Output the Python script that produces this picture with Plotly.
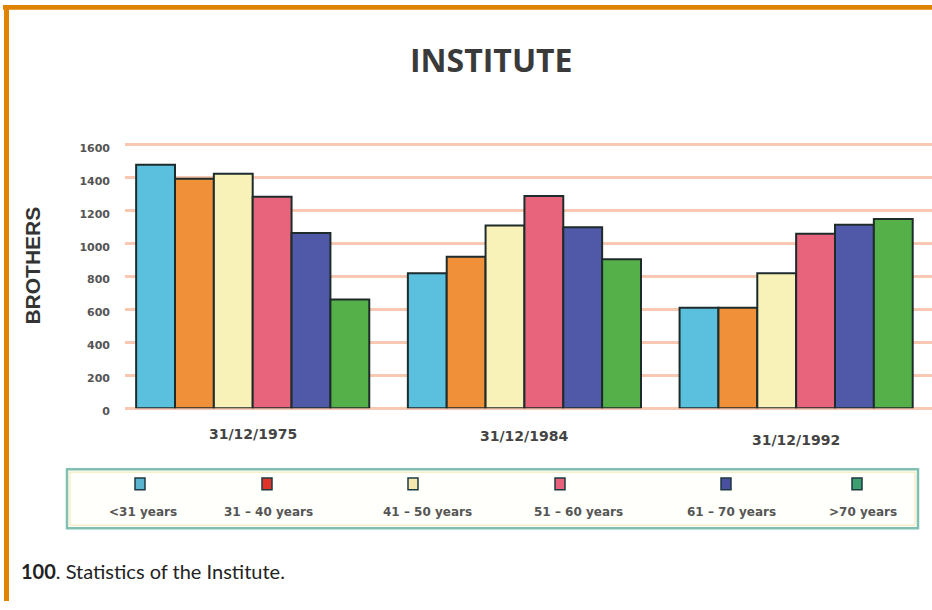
import plotly.graph_objects as go

# ---- data ----
dates = ["31/12/1975", "31/12/1984", "31/12/1992"]
age_groups = ["<31 years", "31 – 40 years", "41 – 50 years", "51 – 60 years", "61 – 70 years", ">70 years"]
under_31 = [1480, 820, 610]
age_31_40 = [1395, 920, 610]
age_41_50 = [1425, 1110, 820]
age_51_60 = [1285, 1290, 1060]
age_61_70 = [1065, 1100, 1115]
over_70 = [660, 905, 1150]
y_ticks = [0, 200, 400, 600, 800, 1000, 1200, 1400, 1600]

series = [under_31, age_31_40, age_41_50, age_51_60, age_61_70, over_70]

# ---- styles ----
bar_colors = ["#5BC0DE", "#F0913A", "#F8F2B8", "#E8637C", "#5058A8", "#55B04A"]
legend_colors = ["#5AB4D0", "#E0342A", "#F5E9B0", "#E8607A", "#4A4FA0", "#3E9E70"]
legend_marker_x = [140, 267, 413, 560, 726, 857]
legend_text_x = [143, 268, 427, 578, 731, 863]
date_label_y = [441, 443, 447]

W, H = 932, 610
def px(x):
    return x / W
def py(y):
    return 1 - y / H

fig = go.Figure()
for name, vals, col in zip(age_groups, series, bar_colors):
    fig.add_trace(go.Bar(
        x=dates, y=vals, name=name,
        marker=dict(color=col, line=dict(color="#1E2B2B", width=2)),
        showlegend=False,
    ))

shapes = []
# orange frame
shapes.append(dict(type="rect", xref="paper", yref="paper", x0=px(3), x1=px(933), y0=py(10), y1=py(5),
                   fillcolor="#E08300", line=dict(width=0), layer="above"))
shapes.append(dict(type="rect", xref="paper", yref="paper", x0=px(4), x1=px(9), y0=py(611), y1=py(5),
                   fillcolor="#E08300", line=dict(width=0), layer="above"))
# legend box
shapes.append(dict(type="rect", xref="paper", yref="paper", x0=px(67), x1=px(918), y0=py(537), y1=py(477),
                   fillcolor="#FFFFFB", line=dict(color="#7FC0B0", width=2.5), layer="below"))
shapes.append(dict(type="rect", xref="paper", yref="paper", x0=px(70), x1=px(915), y0=py(534), y1=py(480),
                   fillcolor="rgba(0,0,0,0)", line=dict(color="#F3E6B0", width=1), layer="below"))
for cx, col in zip(legend_marker_x, legend_colors):
    shapes.append(dict(type="rect", xref="paper", yref="paper", x0=px(cx - 5), x1=px(cx + 5),
                       y0=py(498), y1=py(486), fillcolor=col,
                       line=dict(color="#1E3A40", width=1.5), layer="above"))

annotations = []
annotations.append(dict(text="<b>INSTITUTE</b>", x=px(491), y=py(60), xref="paper", yref="paper",
                        showarrow=False, xanchor="center", yanchor="middle",
                        font=dict(family="Open Sans", size=32, color="#3A3A3A")))
annotations.append(dict(text="<b>BROTHERS</b>", x=px(33), y=py(270), xref="paper", yref="paper",
                        showarrow=False, xanchor="center", yanchor="middle", textangle=-90,
                        font=dict(family="Liberation Sans", size=21, color="#333333")))
for d, yy in zip(dates, date_label_y):
    annotations.append(dict(text="<b>" + d + "</b>", x=d, y=py(yy), xref="x", yref="paper",
                            showarrow=False, xanchor="center", yanchor="middle",
                            font=dict(family="DejaVu Sans", size=14, color="#444444")))
for tx, name in zip(legend_text_x, age_groups):
    annotations.append(dict(text="<b>" + name + "</b>", x=px(tx), y=py(521), xref="paper", yref="paper",
                            showarrow=False, xanchor="center", yanchor="middle",
                            font=dict(family="DejaVu Sans", size=12, color="#555555")))
annotations.append(dict(text="<b>100</b>. Statistics of the Institute.", x=px(19), y=py(581),
                        xref="paper", yref="paper", showarrow=False, xanchor="left", yanchor="middle",
                        font=dict(family="Lato", size=20, color="#222222")))

fig.update_layout(
    width=W, height=H,
    margin=dict(l=0, r=0, t=0, b=0),
    paper_bgcolor="#FFFFFF", plot_bgcolor="#FFFFFF",
    barmode="group", bargap=0.142, bargroupgap=0,
    shapes=shapes, annotations=annotations,
    xaxis=dict(domain=[px(125), 1.0], range=[-0.47, 2.5], showgrid=False, showline=False,
               zeroline=False, ticks="", showticklabels=False),
    yaxis=dict(domain=[py(415), py(144)], range=[0, 1620], tickvals=y_ticks,
               showgrid=True, gridcolor="#F8C8B2", gridwidth=3, zeroline=True,
               zerolinecolor="#F8C8B2", zerolinewidth=3, showline=False, ticks="",
               ticklabelstandoff=14, ticklabelshift=3,
               tickfont=dict(family="DejaVu Sans", size=11, color="#555555", weight="bold")),
    font=dict(family="Open Sans"),
)

fig.write_html("out.html")
